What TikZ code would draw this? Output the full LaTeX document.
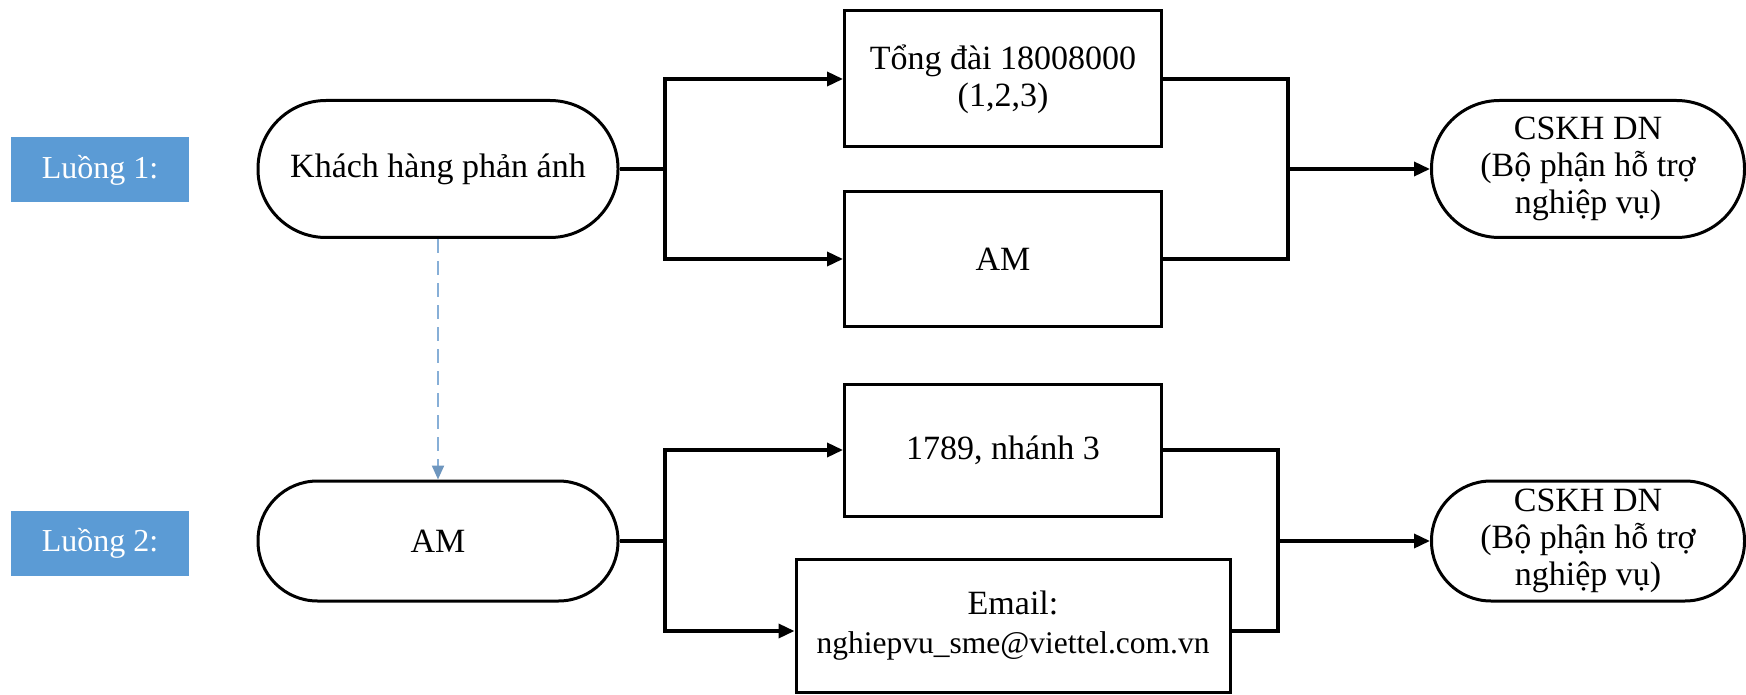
\documentclass[tikz,border=0pt]{standalone}
\usepackage{fontspec}
\setmainfont{Liberation Serif}
\usetikzlibrary{arrows.meta}
\definecolor{lblue}{RGB}{91,155,213}
\definecolor{dashcol}{RGB}{135,175,215}
\definecolor{dashtip}{RGB}{110,150,190}
\begin{document}
\begin{tikzpicture}[x=1pt,y=-1pt,
  every node/.style={font=\fontsize{34}{37}\selectfont, align=center, inner sep=0pt},
  boxn/.style={draw, line width=3pt, rectangle},
  pill/.style={boxn, rounded corners=#1},
  lab/.style={fill=lblue, text=white, minimum width=178pt, minimum height=65pt, font=\fontsize{32}{36}\selectfont},
  conn/.style={line width=3.5pt, line join=miter},
  arr/.style={conn, -{Triangle[length=16pt,width=14pt]}},
  dasharr/.style={draw=dashcol, line width=2.2pt, dash pattern=on 14pt off 8pt, -{Triangle[length=14pt,width=12pt,color=dashtip]}},
]
\useasboundingbox (0,0) rectangle (1746,695);
% labels
\node[lab] (l1) at (100,170) {Luồng 1:};
\node[lab] (l2) at (100,543) {Luồng 2:};
% start pills
\node[pill=68pt, minimum width=360pt, minimum height=137pt] (p1) at (438,169) {Khách hàng phản ánh};
\node[pill=59.5pt, minimum width=360pt, minimum height=120pt] (p2) at (438,541) {AM};
% middle boxes
\node[boxn, minimum width=317pt, minimum height=136pt] (b1) at (1003,79) {Tổng đài 18008000\\(1,2,3)};
\node[boxn, minimum width=317pt, minimum height=134pt] (b2) at (1003,259) {AM};
\node[boxn, minimum width=317pt, minimum height=132pt] (b3) at (1003,450) {1789, nhánh 3};
\node[boxn, minimum width=434pt, minimum height=133pt] (b4) at (1013,626) {Email:\\[2pt]{\fontsize{31.5}{37}\selectfont nghiepvu\_sme@viettel.com.vn}};
% end pills
\node[pill=68pt, minimum width=313pt, minimum height=137pt] (c1) at (1588,169) {CSKH DN\\(Bộ phận hỗ trợ\\nghiệp vụ)};
\node[pill=59.5pt, minimum width=313pt, minimum height=120pt] (c2) at (1588,541) {CSKH DN\\(Bộ phận hỗ trợ\\nghiệp vụ)};
% junctions
\coordinate (j1) at (665,169);
\coordinate (m1) at (1288,169);
\coordinate (j2) at (665,541);
\coordinate (m2) at (1278,541);
\coordinate (e4) at ([yshift=-5pt]b4.west);
\coordinate (f4) at ([yshift=-5pt]b4.east);
% flow 1
\draw[conn] (p1.east) -- (j1);
\draw[arr] (j1) |- (b1.west);
\draw[arr] (j1) |- (b2.west);
\draw[conn] (b1.east) -| (m1);
\draw[conn] (b2.east) -| (m1);
\draw[arr] (m1) -- (c1.west);
% flow 2
\draw[conn] (p2.east) -- (j2);
\draw[arr] (j2) |- (b3.west);
\draw[arr] (j2) |- (e4);
\draw[conn] (b3.east) -| (m2);
\draw[conn] (f4) -| (m2);
\draw[arr] (m2) -- (c2.west);
% dashed link
\draw[dasharr] (p1.south) -- (p2.north);
\end{tikzpicture}
\end{document}
